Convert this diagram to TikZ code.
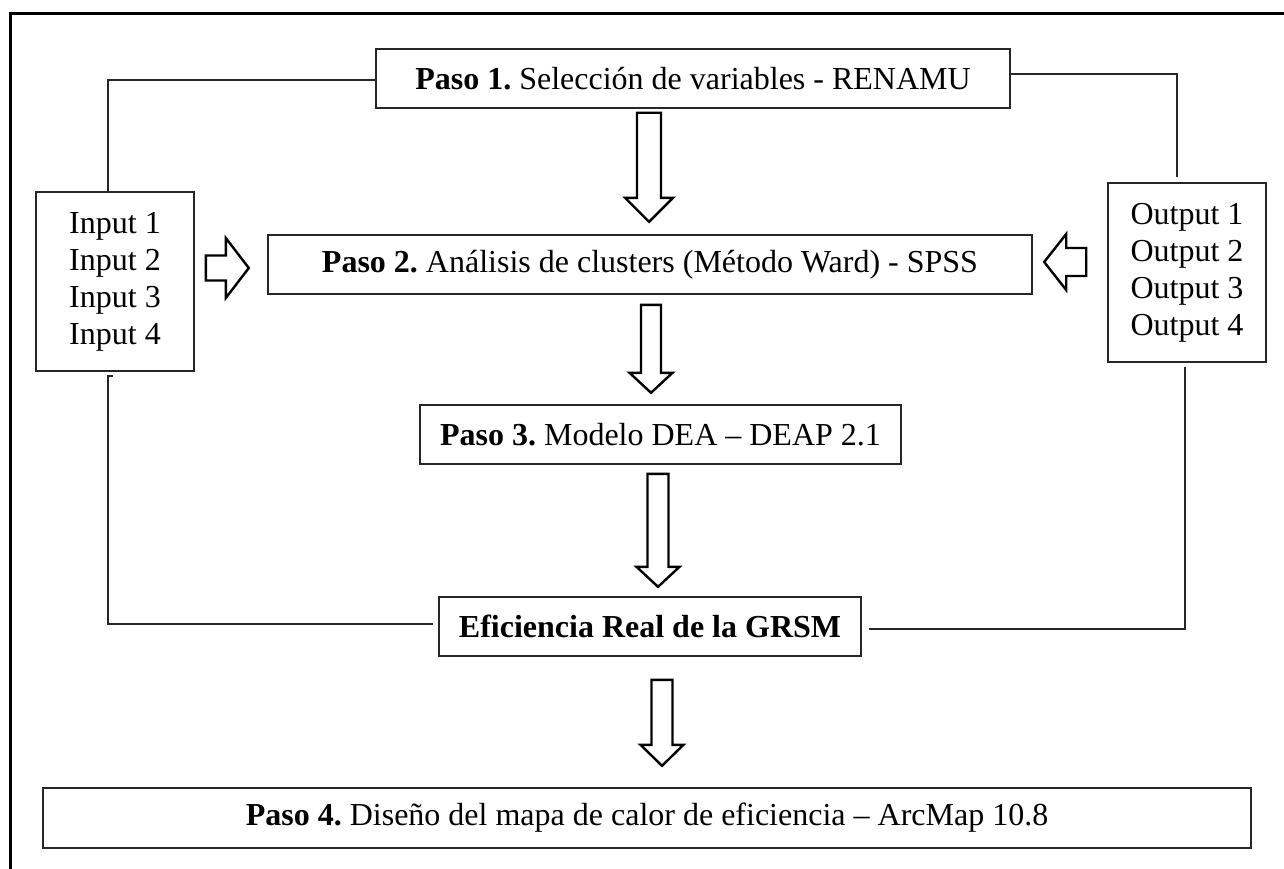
\documentclass[tikz,border=0pt]{standalone}
\usepackage{fontspec}
\setmainfont{Liberation Serif}
\usetikzlibrary{calc}
\frenchspacing

\tikzset{
  stepbox/.style={draw=black!85, line width=1.6pt, inner sep=0pt, align=center,
    font=\fontsize{32}{37}\selectfont},
  conn/.style={draw=black!85, line width=1.6pt},
  fatarrow/.style={draw=black, line width=2.4pt, fill=white, line join=miter},
  frame/.style={draw=black, line width=3pt}
}

% block arrow: #1 tail point, #2 direction, #3 length,
% #4 shaft half width, #5 head half width, #6 head length
\newcommand\blockarrow[6]{%
  \draw[fatarrow, shift={#1}, rotate=#2]
    (0,-#4) -- ({#3-#6},-#4) -- ({#3-#6},-#5) -- (#3,0)
    -- ({#3-#6},#5) -- ({#3-#6},#4) -- (0,#4) -- cycle;}

\begin{document}
\begin{tikzpicture}[x=1pt, y=1pt]
\useasboundingbox (0,0) rectangle (1284,-869);

% outer frame
\draw[frame] (10,-869) -- (10,-14) -- (1284,-14);

% steps
\node[stepbox, minimum width=634pt, minimum height=59pt] (p1) at (693,-78.5)
  {\textbf{Paso 1.} Selección de variables - RENAMU};
\node[stepbox, minimum width=764pt, minimum height=59pt] (p2) at (650,-264.5)
  {\textbf{Paso 2.} Análisis de clusters (Método Ward) - SPSS};
\node[stepbox, minimum width=481pt, minimum height=59pt] (p3) at (660.5,-434.5)
  {\textbf{Paso 3.} Modelo DEA – DEAP 2.1};
\node[stepbox, minimum width=422pt, minimum height=59pt] (ef) at (650,-626.5)
  {\textbf{Eficiencia Real de la GRSM}};
\node[stepbox, minimum width=1208pt, minimum height=60pt] (p4) at (647,-818)
  {\textbf{Paso 4.} Diseño del mapa de calor de eficiencia – ArcMap 10.8};

% inputs and outputs
\node[stepbox, minimum width=158pt, minimum height=179pt] (in) at (115,-281.5)
  {Input 1\\Input 2\\Input 3\\Input 4};
\node[stepbox, minimum width=158pt, minimum height=179pt] (out) at (1187,-272.5)
  {Output 1\\Output 2\\Output 3\\Output 4};

% feedback lines
\draw[conn] ([xshift=-7pt]in.north) |- ([yshift=-1.5pt]p1.west);
\draw[conn] ([yshift=4.5pt]p1.east) -| ([xshift=-10pt,yshift=5pt]out.north);
\draw[conn] ([xshift=-2pt,yshift=-4pt]in.south) -- ([xshift=-7pt,yshift=-4pt]in.south)
  |- ([xshift=-5pt,yshift=2.5pt]ef.west);
\draw[conn] ([xshift=7pt,yshift=-2.5pt]ef.east) -| ([xshift=-2pt,yshift=-4pt]out.south);

% flow arrows
\coordinate (ax1) at (649,0);
\coordinate (ax2) at (651,0);
\coordinate (ax3) at (658,0);
\coordinate (ax4) at (662,0);
\blockarrow{([yshift=-4pt]p1.south -| ax1)}{-90}{109}{12}{24}{24}
\blockarrow{([yshift=-10pt]p2.south -| ax2)}{-90}{88}{10}{21.5}{20}
\blockarrow{([yshift=-9pt]p3.south -| ax3)}{-90}{113}{10.5}{21.5}{20}
\blockarrow{([yshift=-23pt]ef.south -| ax4)}{-90}{86}{10.5}{21.5}{21}

\coordinate (ay1) at (0,-268);
\coordinate (ay2) at (0,-262);
\blockarrow{([xshift=11pt]in.east |- ay1)}{0}{43}{12.5}{30}{23}
\blockarrow{([xshift=-21pt]out.west |- ay2)}{180}{42}{14}{28}{22}
\end{tikzpicture}
\end{document}
